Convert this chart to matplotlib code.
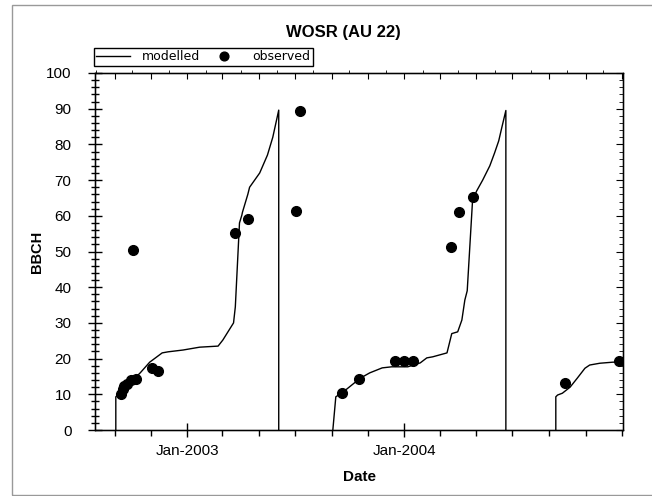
import matplotlib
matplotlib.use('Agg')
import matplotlib.pyplot as plt
import matplotlib.dates as mdates
import matplotlib.patches as patches
import numpy as np

plt.rcParams['font.family'] = ['Liberation Sans', 'DejaVu Sans']

# modelled BBCH, one list per season
mod1_dates = ['2002-09-03', '2002-09-03', '2002-10-14', '2002-10-30', '2002-11-20', '2002-11-30',
              '2002-12-25', '2003-01-22', '2003-02-22', '2003-03-02', '2003-03-20', '2003-03-23',
              '2003-03-30', '2003-04-03', '2003-04-04', '2003-04-13', '2003-04-16', '2003-05-03',
              '2003-05-16', '2003-05-25', '2003-06-04', '2003-06-04']
mod1_vals = [0, 9.3, 16, 19, 21.6, 21.9, 22.4, 23.2, 23.5, 25.2, 30, 34.5,
             58, 60.2, 61, 66, 68, 72, 77, 82, 89.6, 0]

mod2_dates = ['2003-09-03', '2003-09-08', '2003-09-20', '2003-10-19', '2003-11-04', '2003-11-25',
              '2003-12-11', '2003-12-25', '2004-01-07', '2004-01-28', '2004-02-08', '2004-02-18',
              '2004-03-13', '2004-03-21', '2004-03-31', '2004-04-07', '2004-04-12', '2004-04-16',
              '2004-04-25', '2004-05-02', '2004-05-12', '2004-05-24', '2004-06-01', '2004-06-08',
              '2004-06-13', '2004-06-20', '2004-06-20']
mod2_vals = [0, 9.3, 10.6, 14.5, 16, 17.4, 17.7, 17.7, 17.7, 18.8, 20.2, 20.5,
             21.6, 27, 27.5, 30.8, 36.4, 39, 64.4, 67, 70, 74, 77.6, 81,
             84.6, 89.5, 0]

mod3_dates = ['2004-09-12', '2004-09-12', '2004-09-15', '2004-09-23', '2004-10-06', '2004-10-18',
              '2004-10-31', '2004-11-08', '2004-11-25', '2004-12-17', '2004-12-29']
mod3_vals = [0, 9.3, 9.8, 10.3, 12, 14.5, 17.3, 18.2, 18.7, 19, 19]

# observed BBCH
obs_dates = ['2002-09-12', '2002-09-15', '2002-09-17', '2002-09-22', '2002-09-29', '2002-10-07',
             '2002-10-02', '2002-11-03', '2002-11-13', '2003-03-23', '2003-04-13', '2003-07-03',
             '2003-07-10', '2003-09-18', '2003-10-17', '2003-12-17', '2004-01-01', '2004-01-16',
             '2004-03-20', '2004-04-02', '2004-04-26', '2004-09-27', '2004-12-27']
obs_vals = [10.1, 11.5, 12.3, 12.8, 13.9, 14.3,
            50.4, 17.4, 16.4, 55.2, 59.1, 61.3,
            89.4, 10.4, 14.3, 19.3, 19.3, 19.3,
            51.3, 61, 65.3, 13.2, 19.3]

# labelled ticks on the date axis
xlabel_dates = ['2003-01-01', '2004-01-01']

def d(lst):
    return np.array(lst, dtype='datetime64[D]')

fig = plt.figure(figsize=(6.52, 4.96), dpi=100)
ax = fig.add_axes([95/652, 66/496, 528/652, 357/496])

ax.plot(d(mod1_dates), mod1_vals, color='black', lw=1, label='modelled')
ax.plot(d(mod2_dates), mod2_vals, color='black', lw=1)
ax.plot(d(mod3_dates), mod3_vals, color='black', lw=1)
ax.plot(d(obs_dates), obs_vals, 'o', color='black', ms=7, label='observed')

xmin, xmax = np.datetime64('2002-07-30'), np.datetime64('2005-01-03')
ax.set_xlim(xmin, xmax)
ax.set_ylim(0, 100)
ax.set_yticks(np.arange(0, 101, 10))
ax.set_yticks(np.arange(0, 101, 2), minor=True)
ax.set_xticks(mdates.date2num(d(xlabel_dates)))
ax.xaxis.set_minor_locator(mdates.MonthLocator(bymonth=[1, 3, 5, 7, 9, 11]))
ax.xaxis.set_major_formatter(mdates.DateFormatter('%b-%Y'))
ax.tick_params(which='major', direction='inout', length=10, width=1, labelsize=11)
ax.tick_params(which='minor', direction='inout', length=6, width=1)
ax.tick_params(axis='x', which='minor', direction='out', length=4)
ax.tick_params(axis='y', which='major', pad=12)
ax.tick_params(axis='x', which='major', pad=5)
for s in ax.spines.values():
    s.set_linewidth(1)

# inward ticks on top and right
axr = ax.twinx()
axr.set_ylim(0, 100)
axr.set_yticks(np.arange(0, 101, 10))
axr.set_yticks(np.arange(0, 101, 2), minor=True)
axr.tick_params(which='major', direction='in', length=5, labelright=False)
axr.tick_params(which='minor', direction='in', length=3)
axt = ax.twiny()
axt.set_xlim(xmin, xmax)
axt.xaxis.set_major_locator(mdates.MonthLocator(bymonth=[1, 3, 5, 7, 9, 11]))
axt.xaxis.set_minor_locator(mdates.MonthLocator(bymonth=[]))
axt.tick_params(which='major', direction='in', length=4, labeltop=False)

ax.set_xlabel('Date', fontsize=11, fontweight='bold', labelpad=9)
ax.set_ylabel('BBCH', fontsize=10.5, fontweight='bold', labelpad=1)
fig.text(343/652, 1 - 32/496, 'WOSR (AU 22)', ha='center', va='center',
         fontsize=12, fontweight='bold')

leg = ax.legend(loc='lower left', bbox_to_anchor=(-0.002, 1.02), ncol=2,
                prop={'family': 'DejaVu Sans', 'size': 9},
                frameon=True, fancybox=False, edgecolor='black', framealpha=1,
                borderaxespad=0, borderpad=0.2, handlelength=2.7, columnspacing=0.6,
                handletextpad=0.9, markerscale=0.9)
leg.get_frame().set_linewidth(1)

fig.add_artist(patches.Rectangle((12/652, 1/496), 0.99, 490/496, transform=fig.transFigure,
                                 fill=False, edgecolor='#999999', lw=1))

fig.savefig('out.png', dpi=100)
